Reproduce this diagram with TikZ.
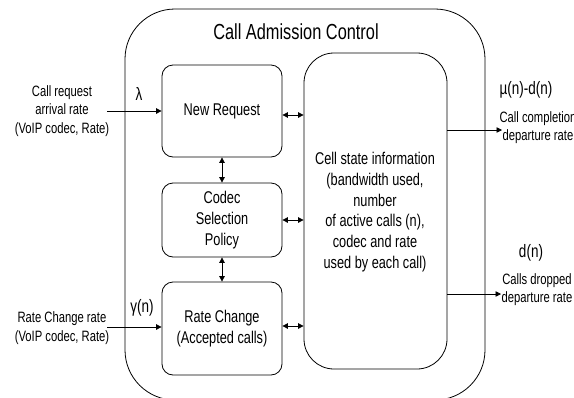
\documentclass[tikz,border=0pt]{standalone}
\usepackage{fontspec}
\setmainfont{Liberation Sans}[FakeStretch=0.75]
\usetikzlibrary{arrows.meta}
\begin{document}
\begin{tikzpicture}[x=1pt,y=-1pt,
  line width=0.8pt,
  tip/.style={-{Triangle[length=5.5pt,width=5.5pt]}},
  dtip/.style={{Triangle[length=5.5pt,width=5.5pt]}-{Triangle[length=5.5pt,width=5.5pt]}},
  blockbox/.style={draw,rounded corners=11pt,inner sep=0pt,align=center,
    font=\fontsize{17}{21}\selectfont},
  sidelabel/.style={inner sep=0pt,align=center,font=\fontsize{15}{18.6}\selectfont},
  ratelabel/.style={inner sep=0pt,font=\fontsize{18}{20}\selectfont}]
\useasboundingbox (0,0) rectangle (574,397);
\clip (0,0) rectangle (574,397);

% outer controller frame (runs off the bottom edge)
\draw[rounded corners=50pt] (125,9) rectangle (485,400);
\node[inner sep=0pt,font=\fontsize{21.8}{24}\selectfont] (title) at (296,32) {Call Admission Control};

% functional blocks
\node[blockbox,minimum width=120pt,minimum height=92pt] (newreq) at (222,111) {New Request};
\node[blockbox,minimum width=120pt,minimum height=74pt] (codec) at (222,220) {Codec\\Selection\\Policy};
\node[blockbox,minimum width=120pt,minimum height=93pt] (ratech) at (222,328.5) {Rate Change\\(Accepted calls)};
\node[draw,rounded corners=30pt,minimum width=143pt,minimum height=316pt] (cell) at (375.5,211) {};
\node[inner sep=0pt,align=center,font=\fontsize{17}{20.8}\selectfont] (celltext) at (375,212)
  {Cell state information\\(bandwidth used,\\number\\of active calls (n),\\codec and rate\\used by each call)};

% links between blocks
\draw[dtip] (newreq.south) -- (codec.north);
\draw[dtip] (codec.south) -- (ratech.north);
\draw[dtip] (newreq.east |- 0,115) -- (cell.west |- 0,115);
\draw[dtip] (codec.east |- 0,220) -- (cell.west |- 0,220);
\draw[dtip] (ratech.east |- 0,326) -- (cell.west |- 0,326);

% incoming rates
\node[sidelabel] (inreq) at (62,111) {Call request\\arrival rate\\(VoIP codec, Rate)};
\node[sidelabel] (inrate) at (62,328) {Rate Change rate\\(VoIP codec, Rate)};
\coordinate (inreqend) at (107,111);
\coordinate (inrateend) at (107,327);
\draw[tip] (inreqend) -- (newreq.west |- inreqend);
\draw[tip] (inrateend) -- (ratech.west |- inrateend);
\node[ratelabel] (lambda) at (139,94) {λ};
\node[ratelabel] (gamma) at (142,308) {γ(n)};

% outgoing rates
\coordinate (outdone) at (502,130);
\coordinate (outdrop) at (501,294);
\draw[tip] (cell.east |- outdone) -- (outdone);
\draw[tip] (cell.east |- outdrop) -- (outdrop);
\node[ratelabel] (mu) at (526,90) {µ(n)-d(n)};
\node[sidelabel] (outdonelabel) at (538,127.5) {Call completion\\departure rate};
\node[ratelabel] (dn) at (531,253) {d(n)};
\node[sidelabel] (outdroplabel) at (537,289.5) {Calls dropped\\departure rate};
\end{tikzpicture}
\end{document}
